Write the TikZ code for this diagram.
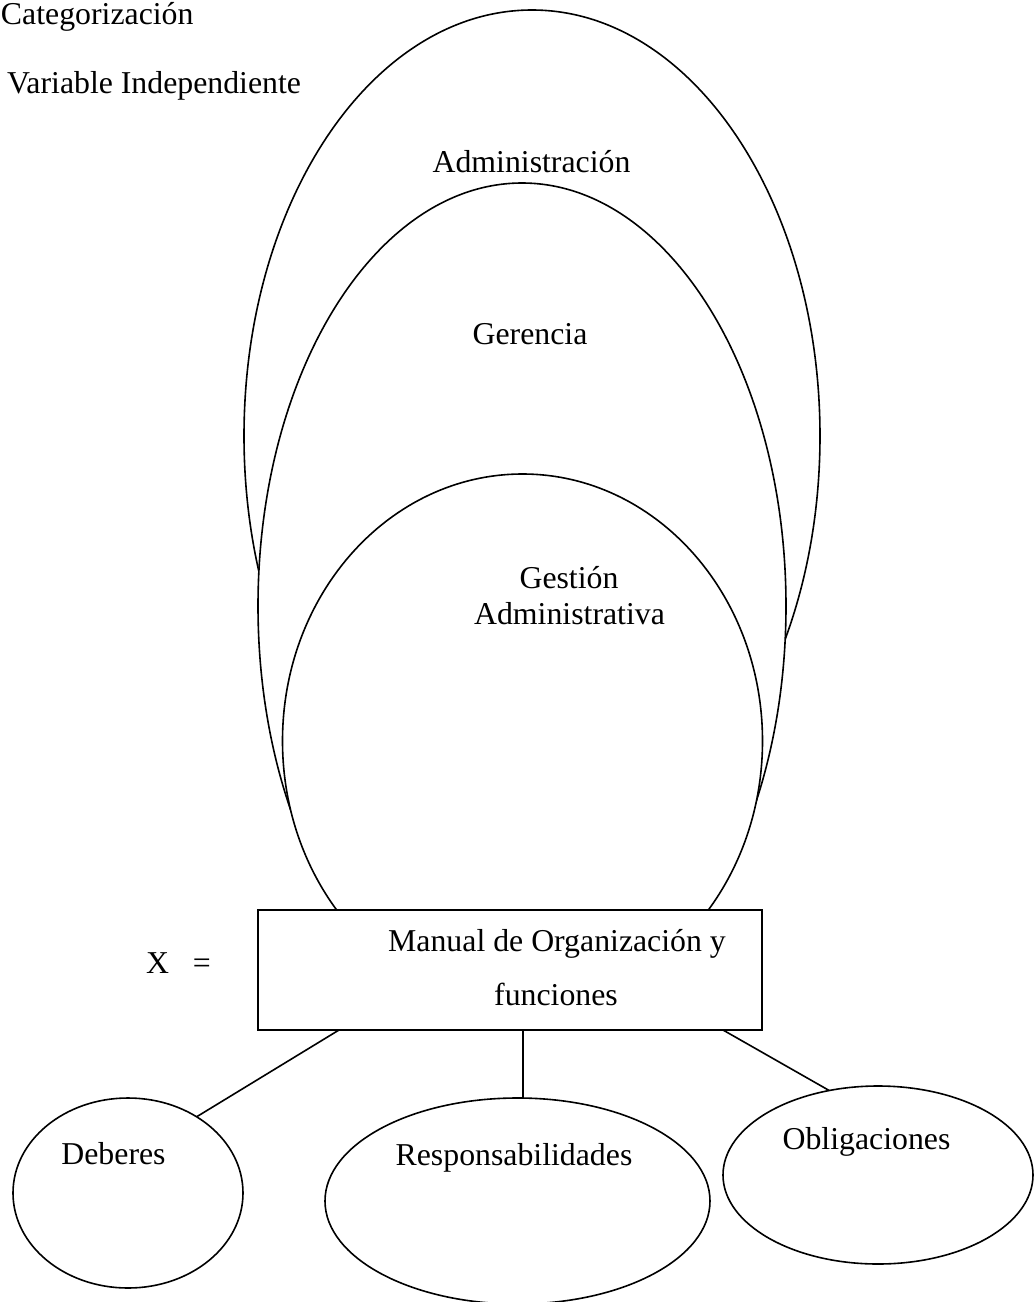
\documentclass[tikz,border=0pt]{standalone}
\usepackage{fontspec}
\setmainfont{Liberation Serif}
\usetikzlibrary{shapes.geometric}
\begin{document}
\begin{tikzpicture}[x=0.5pt,y=-0.5pt,
  every node/.style={inner sep=0pt,outer sep=0pt},
  shapeline/.style={draw=black,line width=0.8pt,fill=white},
  oval/.style={shapeline,ellipse},
  txt/.style={font=\fontsize{15.9}{18}\selectfont,anchor=base},
  txtw/.style={font=\fontsize{15.9}{18}\selectfont,anchor=base west},
  link/.style={draw=black,line width=0.8pt}]
\useasboundingbox (0,0) rectangle (1035,1302);
% nested ellipses
\node[oval,minimum width=288pt,minimum height=426pt] (adm) at (532,436) {};
\node[oval,minimum width=264pt,minimum height=423pt] (ger) at (522,606) {};
\node[oval,minimum width=240pt,minimum height=267pt] (gest) at (522.5,741) {};
% box
\node[shapeline,rectangle,minimum width=252pt,minimum height=60pt] (box) at (510,970) {};
% bottom ellipses
\node[oval,minimum width=115pt,minimum height=95pt] (deb) at (128,1193) {};
\node[oval,minimum width=192.5pt,minimum height=103pt] (res) at (517.5,1201) {};
\node[oval,minimum width=155pt,minimum height=89pt] (obl) at (878,1175) {};
% connector start points on the box
\coordinate (b1) at (339,1030);
\coordinate (b2) at (523,1030);
\coordinate (b3) at (723,1030);
\draw[link] (b1) -- (deb.48);
\draw[link] (b2) -- (b2 |- res.north);
\draw[link] (b3) -- (obl.120);
% texts
\node[txtw] (t1) at (1,24) {Categorización};
\node[txtw] (t2) at (7,93) {Variable Independiente};
\node[txt] (t3) at (531.5,172.5) {Administración};
\node[txt] (t4) at (530,344) {Gerencia};
\node[txt] (t5) at (569,588) {Gestión};
\node[txt] (t6) at (569.5,624) {Administrativa};
\node[txt] (t7) at (557,951) {Manual de Organización y};
\node[txt] (t8) at (556,1005) {funciones};
\node[txtw] (t9) at (146,973) {X\ \ \ =};
\node[txt] (t10) at (113.5,1164) {Deberes};
\node[txt] (t11) at (514,1165) {Responsabilidades};
\node[txt] (t12) at (866.5,1149) {Obligaciones};
\end{tikzpicture}
\end{document}
